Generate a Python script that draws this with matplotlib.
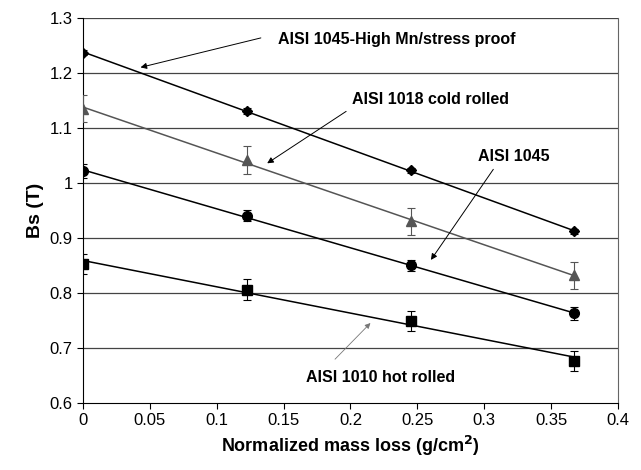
import matplotlib
matplotlib.use("Agg")
import matplotlib.pyplot as plt
import numpy as np

plt.rcParams["font.family"] = ["Liberation Sans", "DejaVu Sans"]

# Normalized mass loss (g/cm2)
mass_loss = [0.0, 0.1225, 0.245, 0.367]

# Bs (T) and error bars for each steel
bs_high_mn = [1.237, 1.131, 1.023, 0.912]
err_high_mn = [0.005, 0.005, 0.004, 0.005]
bs_1018 = [1.135, 1.042, 0.930, 0.832]
err_1018 = [0.025, 0.025, 0.025, 0.025]
bs_1045 = [1.022, 0.940, 0.850, 0.763]
err_1045 = [0.013, 0.010, 0.010, 0.012]
bs_1010 = [0.853, 0.806, 0.749, 0.677]
err_1010 = [0.018, 0.019, 0.018, 0.018]

series = [
    (bs_high_mn, err_high_mn, "D", 5, "black"),
    (bs_1018, err_1018, "^", 7, "#555555"),
    (bs_1045, err_1045, "o", 7, "black"),
    (bs_1010, err_1010, "s", 7, "black"),
]

fig = plt.figure(figsize=(6.41, 4.70), dpi=100)
ax = fig.add_axes([0.1295, 0.1426, 0.8345, 0.8191])

for y in np.arange(0.7, 1.31, 0.1):
    ax.axhline(y, color="#444444", lw=0.9, zorder=1)

x = np.array(mass_loss)
for vals, errs, marker, ms, color in series:
    ax.errorbar(x, vals, yerr=errs, fmt=marker, ms=ms, color=color,
                ecolor=color, elinewidth=0.8, capsize=3, capthick=0.8, zorder=3)
    # linear trendline
    k, b = np.polyfit(x, vals, 1)
    ax.plot([x[0], x[-1]], [b, b + k * x[-1]], color=color, lw=1.1, zorder=2)

fs = 11.5
arrow = dict(arrowstyle="-|>", color="black", lw=0.7, mutation_scale=9)
ax.annotate("", xy=(0.041, 1.209), xytext=(0.135, 1.265), arrowprops=arrow)
ax.text(0.1455, 1.26, "AISI 1045-High Mn/stress proof", fontsize=fs,
        fontweight="bold", va="center", ha="left")
ax.annotate("", xy=(0.136, 1.033), xytext=(0.1985, 1.133), arrowprops=arrow)
ax.text(0.201, 1.151, "AISI 1018 cold rolled", fontsize=fs,
        fontweight="bold", va="center", ha="left")
ax.annotate("", xy=(0.259, 0.856), xytext=(0.308, 1.029), arrowprops=arrow)
ax.text(0.322, 1.049, "AISI 1045", fontsize=fs,
        fontweight="bold", va="center", ha="center")
ax.annotate("", xy=(0.2164, 0.749), xytext=(0.187, 0.676),
            arrowprops=dict(arrowstyle="-|>", color="#777777", lw=0.6, mutation_scale=8))
ax.text(0.2224, 0.647, "AISI 1010 hot rolled", fontsize=fs,
        fontweight="bold", va="center", ha="center")

ax.set_xlim(0, 0.4)
ax.set_ylim(0.6, 1.3)
ax.set_xticks(np.arange(0, 0.401, 0.05))
ax.set_xticklabels(["0", "0.05", "0.1", "0.15", "0.2", "0.25", "0.3", "0.35", "0.4"])
ax.set_yticks(np.arange(0.6, 1.301, 0.1))
ax.set_yticklabels(["0.6", "0.7", "0.8", "0.9", "1", "1.1", "1.2", "1.3"])
ax.tick_params(direction="out", length=4, width=0.8, labelsize=12)
ax.set_xlabel("Normalized mass loss (g/cm$^\\mathbf{2}$)", fontsize=13, fontweight="bold")
ax.set_ylabel("Bs (T)", fontsize=14, fontweight="bold")
ax.spines["top"].set_visible(False)
ax.spines["right"].set_color("#666666")

fig.savefig("out.png", dpi=100)
